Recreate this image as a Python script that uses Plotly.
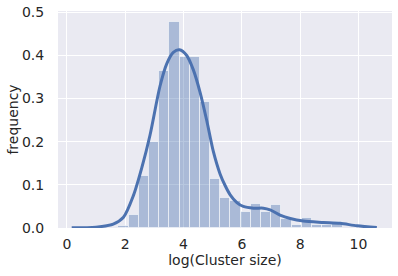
import numpy as np
import plotly.graph_objects as go

# Histogram (density) of log(Cluster size)
bin_start = 1.764
bin_width = 0.3497
bar_heights = [0.005, 0.031, 0.12, 0.20, 0.364, 0.478, 0.397, 0.397, 0.292, 0.114,
               0.069, 0.062, 0.036, 0.056, 0.036, 0.054, 0.022, 0.008, 0.024, 0.007,
               0.007, 0.015]

# KDE curve
kde_x = [0.165, 1.0, 1.59, 1.94, 2.28, 2.57, 2.85, 3.19, 3.42, 3.65, 3.86, 4.11, 4.34,
         4.57, 4.80, 5.02, 5.25, 5.43, 5.60, 5.83, 6.05, 6.40, 6.74, 6.97, 7.31, 7.66,
         8.11, 8.80, 9.37, 9.95, 10.63]
kde_y = [0.0005, 0.002, 0.009, 0.025, 0.075, 0.14, 0.215, 0.328, 0.38, 0.407, 0.413,
         0.40, 0.366, 0.314, 0.248, 0.178, 0.126, 0.098, 0.077, 0.059, 0.05, 0.046,
         0.046, 0.042, 0.030, 0.022, 0.016, 0.013, 0.011, 0.005, 0.001]

x_ticks = [0, 2, 4, 6, 8, 10]
y_ticks = [0.0, 0.1, 0.2, 0.3, 0.4, 0.5]

centers = bin_start + bin_width * (np.arange(len(bar_heights)) + 0.5)

fig = go.Figure()
fig.add_trace(go.Bar(
    x=centers, y=bar_heights, width=bin_width,
    marker=dict(color="rgba(76,114,176,0.4)", line=dict(color="rgba(255,255,255,0.55)", width=1)),
    showlegend=False,
))
fig.add_trace(go.Scatter(
    x=kde_x, y=kde_y, mode="lines",
    line=dict(color="#4C72B0", width=3, shape="spline", smoothing=0.8),
    showlegend=False,
))

font = dict(family="DejaVu Sans", size=14, color="#262626")
fig.update_layout(
    width=398, height=276,
    margin=dict(l=58, r=6, t=11, b=48),
    paper_bgcolor="white", plot_bgcolor="#EAEAF2",
    font=font, bargap=0,
    xaxis=dict(range=[-0.305, 11.15], tickvals=x_ticks, showgrid=True, automargin=False,
               gridcolor="white", gridwidth=1.2, zeroline=False,
               ticks="outside", ticklen=3, tickcolor="rgba(0,0,0,0)",
               title=dict(text="log(Cluster size)", standoff=0, font=font)),
    yaxis=dict(range=[0, 0.503], tickvals=y_ticks, tickformat=".1f", showgrid=True, automargin=False,
               gridcolor="white", gridwidth=1.2, zeroline=False,
               ticks="outside", ticklen=10, tickcolor="rgba(0,0,0,0)",
               title=dict(text="frequency", standoff=0, font=font)),
)
fig.write_html("out.html", config={"displayModeBar": False},
               post_script="document.body.style.margin='0';document.body.style.padding='0';")
